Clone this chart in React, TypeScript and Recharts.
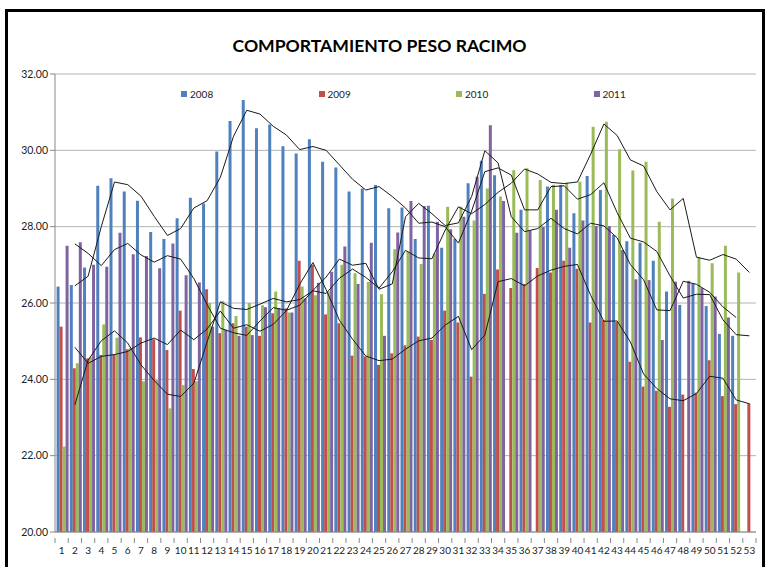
import { ComposedChart, Bar, Line, XAxis, YAxis, CartesianGrid } from 'recharts';

const WEEKS = Array.from({ length: 53 }, (_, i) => String(i + 1));

// peso racimo por semana
const Y2008 = [26.43, 26.47, 26.93, 29.07, 29.27, 28.92, 28.68, 27.86, 27.68, 28.22, 28.76, 28.61, 29.97, 30.77, 31.32, 30.58, 30.68, 30.11, 29.92, 30.29, 29.7, 29.55, 28.92, 29.0, 29.09, 28.48, 28.5, 27.68, 28.55, 27.45, 27.68, 29.14, 29.73, 29.35, null, 28.44, null, 29.05, 29.09, 28.35, 29.33, 28.96, 27.78, 27.62, 27.58, 27.11, 26.3, 25.95, 26.51, 25.92, 25.19, 25.14, null];
const Y2009 = [25.38, 24.29, 24.55, 24.64, 24.66, 24.79, 25.1, 25.05, 24.77, 25.8, 24.27, 26.36, 25.21, 25.47, 25.38, 25.14, 25.73, 25.86, 27.11, 27.0, 25.7, 25.47, 24.62, 24.6, 24.38, 24.68, 24.89, 25.12, 25.03, 25.8, 25.49, 24.07, 26.24, 26.88, 26.39, 26.5, 26.92, 26.8, 27.11, 26.9, 25.49, 25.55, 25.5, 24.46, 23.81, 23.7, 23.28, 23.6, 23.65, 24.5, 23.56, 23.35, 23.37];
const Y2010 = [22.24, 24.42, 24.58, 25.44, 25.09, 24.81, 23.95, 23.98, 23.24, 23.85, 23.95, 26.0, 26.05, 25.66, 26.0, 25.94, 26.3, 25.75, 26.43, 26.2, 26.3, 27.0, 26.78, 26.55, 26.23, 27.41, 27.34, 27.02, 27.3, 28.52, 28.52, 28.16, 29.0, 28.79, 29.48, 29.53, 29.22, 29.1, 29.15, 29.18, 30.62, 30.75, 30.03, 29.47, 29.7, 28.13, 28.74, null, 27.2, 27.04, 27.5, 26.8, null];
const Y2011 = [27.5, 27.59, 27.0, 26.95, 27.84, 27.28, 27.23, 26.91, 27.56, 26.73, 26.54, 25.38, 25.3, 25.14, 25.16, 25.89, 25.86, 25.75, 26.12, 26.53, 26.82, 27.48, 26.5, 27.58, 25.14, 27.85, 28.67, 28.54, 28.13, 27.93, 28.26, 29.31, 30.66, 28.67, 27.84, 27.9, 27.99, 28.44, 27.45, 28.16, 28.02, 28.02, 27.39, 26.62, 26.6, 25.03, 26.56, 26.58, 26.39, 26.17, 25.62, null, null];

// líneas de tendencia (media móvil de 2 períodos)
const MA2008 = [null, 26.45, 26.7, 28.0, 29.17, 29.1, 28.8, 28.27, 27.77, 27.95, 28.49, 28.68, 29.29, 30.37, 31.05, 30.95, 30.63, 30.4, 30.02, 30.1, 30.0, 29.62, 29.24, 28.96, 29.05, 28.79, 28.49, 28.09, 28.12, 28.0, 27.57, 28.41, 29.44, 29.54, 29.35, 28.44, 28.44, 29.05, 29.07, 28.72, 28.84, 29.15, 28.37, 27.7, 27.6, 27.35, 26.71, 26.13, 26.23, 26.22, 25.56, 25.17, 25.14];
const MA2009 = [null, 24.84, 24.42, 24.6, 24.65, 24.73, 24.95, 25.08, 24.91, 25.29, 25.04, 25.32, 25.79, 25.34, 25.43, 25.26, 25.44, 25.8, 26.49, 27.06, 26.35, 25.55, 25.05, 24.61, 24.49, 24.53, 24.79, 25.01, 25.08, 25.42, 25.65, 24.78, 25.16, 26.56, 26.64, 26.45, 26.71, 26.86, 26.96, 27.01, 26.2, 25.52, 25.53, 24.98, 24.14, 23.76, 23.49, 23.44, 23.63, 24.08, 24.03, 23.46, 23.36];
const MA2010 = [null, 23.33, 24.5, 25.01, 25.27, 24.95, 24.38, 23.97, 23.61, 23.55, 23.9, 24.98, 26.03, 25.86, 25.83, 25.97, 26.12, 26.03, 26.09, 26.32, 26.25, 26.65, 26.89, 26.67, 26.39, 26.82, 27.38, 27.18, 27.16, 27.91, 28.52, 28.34, 28.58, 28.9, 29.14, 29.51, 29.38, 29.16, 29.13, 29.17, 29.9, 30.69, 30.39, 29.75, 29.59, 28.92, 28.44, 28.74, 27.2, 27.12, 27.27, 27.15, 26.8];
const MA2011 = [null, 27.55, 27.3, 26.98, 27.4, 27.56, 27.26, 27.07, 27.24, 27.15, 26.64, 25.96, 25.34, 25.22, 25.15, 25.53, 25.88, 25.81, 25.94, 26.33, 26.68, 27.15, 26.99, 27.04, 26.36, 26.5, 28.26, 28.61, 28.34, 28.03, 28.1, 28.79, 29.99, 29.67, 28.26, 27.87, 27.95, 28.22, 27.95, 27.81, 28.09, 28.02, 27.71, 27.01, 26.61, 25.82, 25.8, 26.57, 26.49, 26.28, 25.9, 25.62, null];

const Y_TICKS = [20, 22, 24, 26, 28, 30, 32];

const SERIES = [
  { key: 'y2008', ma: 'ma2008', name: '2008', color: '#4F81BD' },
  { key: 'y2009', ma: 'ma2009', name: '2009', color: '#C0504D' },
  { key: 'y2010', ma: 'ma2010', name: '2010', color: '#9BBB59' },
  { key: 'y2011', ma: 'ma2011', name: '2011', color: '#8064A2' },
];

const data = WEEKS.map((week, i) => ({
  week,
  y2008: Y2008[i],
  y2009: Y2009[i],
  y2010: Y2010[i],
  y2011: Y2011[i],
  ma2008: MA2008[i],
  ma2009: MA2009[i],
  ma2010: MA2010[i],
  ma2011: MA2011[i],
}));

const FONT = 'Lato, "Open Sans", sans-serif';

function WeekTick({ x, y, payload, index }: any) {
  const half = 6.6;
  return (
    <g>
      <line x1={x - half} x2={x - half} y1={y - 9} y2={y - 4} stroke="#888" />
      {index === WEEKS.length - 1 && (
        <line x1={x + half} x2={x + half} y1={y - 9} y2={y - 4} stroke="#888" />
      )}
      <text x={x} y={y} dy="0.71em" textAnchor="middle" fontSize={10} fill="#222" fontFamily={FONT}>
        {payload.value}
      </text>
    </g>
  );
}

export default function App() {
  return (
    <div style={{ position: 'absolute', left: 0, top: 0, width: 766, height: 567, overflow: 'hidden', background: '#fff' }}>
      <div
        style={{
          position: 'absolute',
          left: 5,
          top: 9,
          width: 760,
          height: 600,
          border: '3px solid #000',
          boxSizing: 'border-box',
        }}
      />
      <div
        style={{
          position: 'absolute',
          left: 0,
          top: 35,
          width: 759,
          textAlign: 'center',
          fontFamily: FONT,
          fontWeight: 700,
          fontSize: 17.6,
          color: '#000',
        }}
      >
        COMPORTAMIENTO PESO RACIMO
      </div>
      <div style={{ position: 'absolute', left: 0, top: 0 }}>
        <ComposedChart
          width={766}
          height={567}
          data={data}
          margin={{ top: 74, right: 10, bottom: 0, left: 5 }}
          barCategoryGap="12%"
          barGap={0}
        >
          <CartesianGrid vertical={false} stroke="#B4B4B4" />
          <XAxis
            dataKey="week"
            interval={0}
            height={35}
            tickLine={false}
            tickMargin={9}
            tick={<WeekTick />}
            axisLine={{ stroke: '#888' }}
          />
          <YAxis
            domain={[20, 32]}
            ticks={Y_TICKS}
            width={50}
            tickFormatter={(v: number) => v.toFixed(2)}
            tick={{ fontSize: 10.5, fill: '#222', fontFamily: FONT }}
            tickSize={5}
            tickMargin={2}
            axisLine={{ stroke: '#888' }}
            tickLine={{ stroke: '#888' }}
            allowDataOverflow
          />
          {SERIES.map((s) => (
            <Bar key={s.key} dataKey={s.key} name={s.name} fill={s.color} isAnimationActive={false} />
          ))}
          {SERIES.map((s) => (
            <Line
              key={s.ma}
              dataKey={s.ma}
              type="linear"
              stroke="#1a1a1a"
              strokeWidth={1}
              dot={false}
              activeDot={false}
              legendType="none"
              isAnimationActive={false}
            />
          ))}
        </ComposedChart>
      </div>
      {SERIES.map((s, i) => (
        <div
          key={s.name}
          style={{
            position: 'absolute',
            left: 181 + i * 137.5,
            top: 88,
            display: 'flex',
            alignItems: 'center',
            fontFamily: FONT,
            fontSize: 10,
            color: '#222',
          }}
        >
          <span style={{ display: 'inline-block', width: 6, height: 6, background: s.color, marginRight: 3 }} />
          {s.name}
        </div>
      ))}
    </div>
  );
}
